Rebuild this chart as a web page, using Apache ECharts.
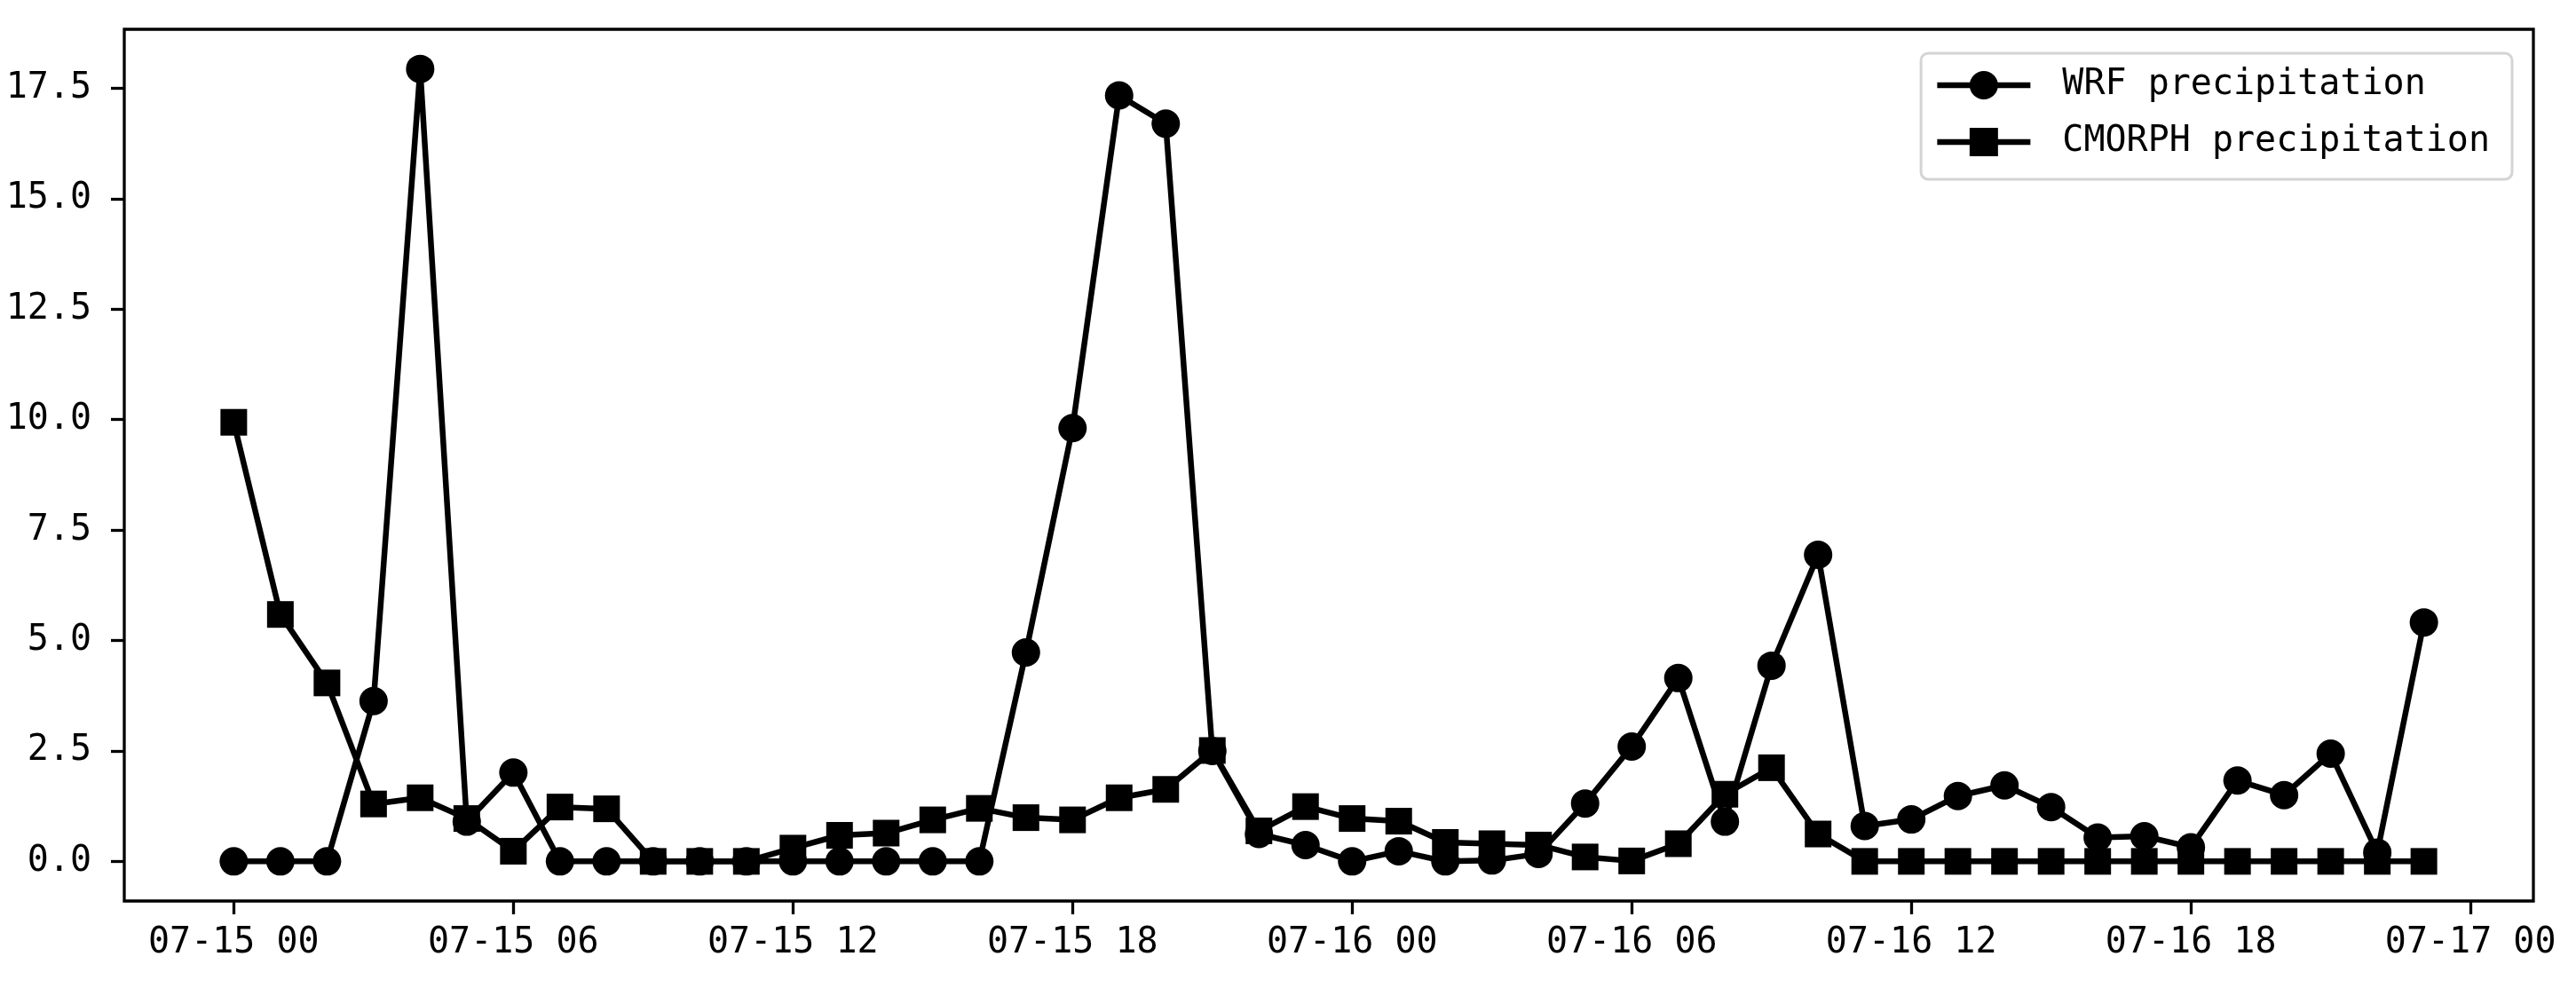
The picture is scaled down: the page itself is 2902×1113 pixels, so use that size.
<!DOCTYPE html>
<html>
<head>
<meta charset="utf-8">
<title>WRF vs CMORPH precipitation</title>
<script src="https://cdn.jsdelivr.net/npm/echarts@6/dist/echarts.min.js"></script>
<style>
  html, body { margin: 0; padding: 0; background: #fff; }
  #chart { width: 2902px; height: 1113px; }
</style>
</head>
<body>
<div id="chart"></div>
<script>
// hourly values, 07-15 00 .. 07-16 23
const wrf = [
  0, 0, 0, 3.63, 17.94, 0.9, 2.01, 0, 0, 0, 0, 0,
  0, 0, 0, 0, 0, 4.73, 9.81, 17.34, 16.7, 2.5, 0.62, 0.37,
  0, 0.23, 0, 0.02, 0.17, 1.31, 2.6, 4.15, 0.9, 4.43, 6.94, 0.8,
  0.95, 1.48, 1.72, 1.23, 0.54, 0.57, 0.32, 1.83, 1.5, 2.44, 0.2, 5.41
];
const cmorph = [
  9.94, 5.59, 4.04, 1.3, 1.44, 0.97, 0.23, 1.23, 1.19, 0, 0, 0,
  0.3, 0.59, 0.64, 0.94, 1.2, 0.99, 0.94, 1.44, 1.63, 2.51, 0.69, 1.24,
  0.97, 0.91, 0.43, 0.4, 0.37, 0.1, 0.01, 0.4, 1.52, 2.12, 0.62, 0,
  0, 0, 0, 0, 0, 0, 0, 0, 0, 0, 0, 0
];
const seriesNames = ["WRF precipitation", "CMORPH precipitation"];
const xTickHours = [0, 6, 12, 18, 24, 30, 36, 42, 48];
const xTickLabels = ["07-15 00", "07-15 06", "07-15 12", "07-15 18", "07-16 00",
  "07-16 06", "07-16 12", "07-16 18", "07-17 00"];
const yTicks = [0, 2.5, 5, 7.5, 10, 12.5, 15, 17.5];

const FONT = "DejaVu Sans Mono";
const LINE_W = 6.5;

const toPoints = (arr) => arr.map((v, i) => [i, v]);

const tickStyle = { show: true, inside: false, length: 15, lineStyle: { color: "#000", width: 3.3 } };

const option = {
  animation: false,
  backgroundColor: "#fff",
  grid: {
    left: 140, right: 48, top: 33, bottom: 98,
    show: true, borderColor: "#000", borderWidth: 3.3, backgroundColor: "transparent"
  },
  legend: {
    orient: "vertical",
    right: 72,
    top: 60,
    itemWidth: 105,
    itemHeight: 40,
    itemGap: 24,
    padding: [16, 25, 22, 15],
    backgroundColor: "rgba(255,255,255,0.8)",
    borderColor: "#d4d4d4",
    borderWidth: 3,
    borderRadius: 8,
    lineStyle: { width: LINE_W, color: "#000" },
    textStyle: { fontFamily: FONT, fontSize: 40, color: "#000", padding: [0, 0, 0, 31] },
    data: seriesNames
  },
  xAxis: {
    type: "value",
    min: -2.35,
    max: 49.35,
    axisLine: { show: false, onZero: false },
    splitLine: { show: false },
    axisTick: Object.assign({ customValues: xTickHours }, tickStyle),
    axisLabel: {
      customValues: xTickHours,
      margin: 28,
      fontFamily: FONT,
      fontSize: 40,
      color: "#000",
      formatter: (v) => xTickLabels[xTickHours.indexOf(v)] || ""
    }
  },
  yAxis: {
    type: "value",
    min: -0.897,
    max: 18.837,
    axisLine: { show: false, onZero: false },
    splitLine: { show: false },
    axisTick: Object.assign({ customValues: yTicks }, tickStyle),
    axisLabel: {
      customValues: yTicks,
      margin: 37,
      fontFamily: FONT,
      fontSize: 40,
      color: "#000",
      formatter: (v) => v.toFixed(1)
    }
  },
  series: [
    {
      name: seriesNames[0],
      type: "line",
      data: toPoints(wrf),
      symbol: "circle",
      symbolSize: 32,
      showAllSymbol: true,
      lineStyle: { color: "#000", width: LINE_W },
      itemStyle: { color: "#000" },
      emphasis: { disabled: true }
    },
    {
      name: seriesNames[1],
      type: "line",
      data: toPoints(cmorph),
      symbol: "rect",
      symbolSize: 30,
      showAllSymbol: true,
      lineStyle: { color: "#000", width: LINE_W },
      itemStyle: { color: "#000" },
      emphasis: { disabled: true }
    }
  ]
};

echarts.init(document.getElementById("chart")).setOption(option);
</script>
</body>
</html>
